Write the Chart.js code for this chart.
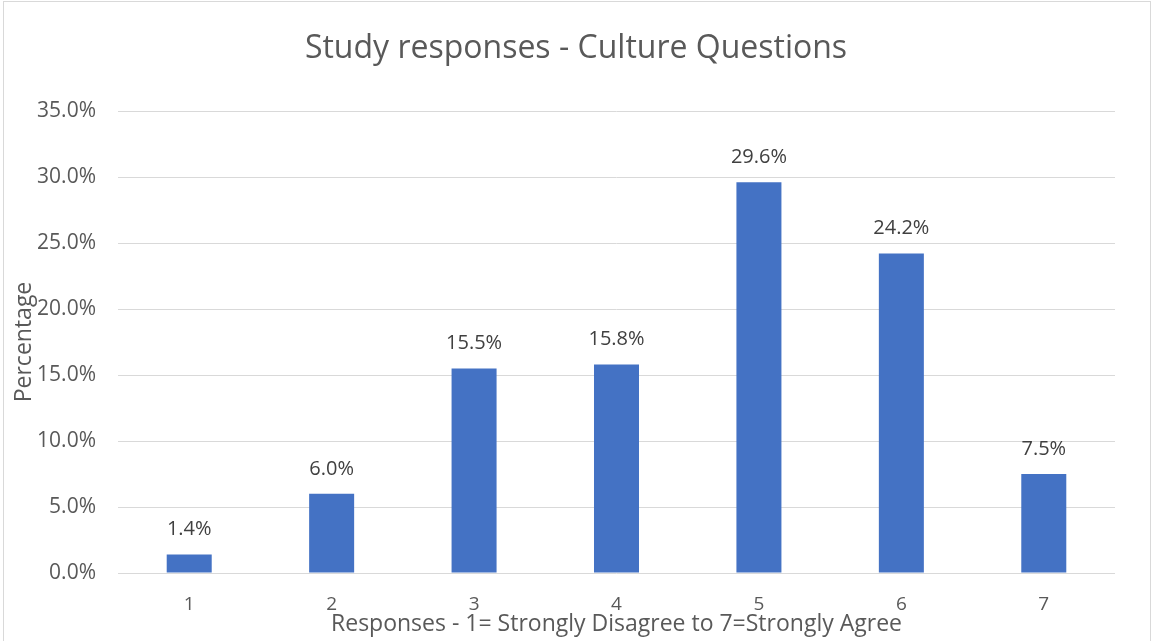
<!DOCTYPE html>
<html>
<head>
<meta charset="utf-8">
<script src="https://cdn.jsdelivr.net/npm/chart.js@4/dist/chart.umd.min.js"></script>
<style>
  html, body { margin: 0; padding: 0; background: #fff; }
  #wrap { position: relative; width: 1152px; height: 641px; }
</style>
</head>
<body>
<div id="wrap"><canvas id="c" width="1152" height="641"></canvas></div>
<script>
const categories = ['1', '2', '3', '4', '5', '6', '7'];
const percentages = [1.4, 6.0, 15.5, 15.8, 29.6, 24.2, 7.5];
const yTickValues = [0, 5, 10, 15, 20, 25, 30, 35];
const chartTitle = 'Study responses - Culture Questions';
const xTitle = 'Responses - 1= Strongly Disagree to 7=Strongly Agree';
const yTitle = 'Percentage';

const FONT = "'Open Sans', 'Liberation Sans', sans-serif";
const TEXT = '#595959';

const borderPlugin = {
  id: 'frame',
  beforeDraw(chart) {
    const ctx = chart.ctx;
    ctx.save();
    ctx.fillStyle = '#ffffff';
    ctx.fillRect(0, 0, chart.width, chart.height);
    ctx.strokeStyle = '#d9d9d9';
    ctx.lineWidth = 1;
    ctx.strokeRect(3.5, 1.5, chart.width - 5, chart.height + 10);
    ctx.restore();
  }
};

const labelPlugin = {
  id: 'barLabels',
  afterDatasetsDraw(chart) {
    const ctx = chart.ctx;
    const meta = chart.getDatasetMeta(0);
    ctx.save();
    ctx.font = "20px " + FONT;
    ctx.fillStyle = '#404040';
    ctx.textAlign = 'center';
    ctx.textBaseline = 'middle';
    meta.data.forEach((el, i) => {
      ctx.fillText(percentages[i].toFixed(1) + '%', el.x, el.y - 25);
    });
    ctx.restore();
  }
};

new Chart(document.getElementById('c'), {
  type: 'bar',
  data: {
    labels: categories,
    datasets: [{
      data: percentages,
      backgroundColor: '#4472C4',
      borderWidth: 0,
      categoryPercentage: 1.0,
      barPercentage: 0.316
    }]
  },
  options: {
    responsive: false,
    animation: false,
    layout: { padding: { left: 0, right: 0, top: 0, bottom: 0 } },
    plugins: {
      legend: { display: false },
      tooltip: { enabled: false },
      title: {
        display: true,
        text: chartTitle,
        color: TEXT,
        font: { family: FONT, size: 32, weight: 'normal' },
        padding: { top: 29.8, bottom: 42.8 }
      }
    },
    scales: {
      x: {
        grid: { display: false, drawTicks: false },
        border: { display: false },
        ticks: { color: TEXT, font: { family: FONT, size: 19 }, padding: 20, maxRotation: 0 },
        title: {
          display: true, text: xTitle, color: TEXT,
          font: { family: FONT, size: 23 }, padding: { top: 0, bottom: 3.2 }
        },
        afterFit(scale) { scale.height = 68; }
      },
      y: {
        min: 0, max: 35,
        afterBuildTicks(scale) { scale.ticks = yTickValues.map(v => ({ value: v })); },
        grid: { color: '#d9d9d9', lineWidth: 1, drawTicks: false },
        border: { display: false },
        ticks: {
          color: TEXT, font: { family: FONT, size: 21 }, padding: 22,
          callback: v => Number(v).toFixed(1) + '%'
        },
        title: {
          display: true, text: yTitle, color: TEXT,
          font: { family: FONT, size: 23 }, padding: { top: 11, bottom: 0 }
        },
        afterFit(scale) { scale.width = 118; scale.paddingTop = 0; scale.paddingBottom = 0; }
      },
      spacer: {
        type: 'linear',
        position: 'right',
        display: true,
        grid: { display: false, drawTicks: false },
        border: { display: false },
        ticks: { display: false },
        afterFit(scale) { scale.width = 37; scale.paddingTop = 0; scale.paddingBottom = 0; }
      }
    }
  },
  plugins: [borderPlugin, labelPlugin]
});
</script>
</body>
</html>
